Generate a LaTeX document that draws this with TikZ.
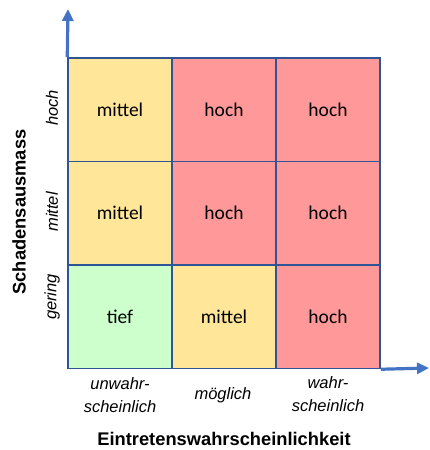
\documentclass[tikz,border=0pt]{standalone}
\usepackage{fontspec}
\setmainfont{Carlito}
\setsansfont{Liberation Sans}
\usetikzlibrary{arrows.meta}

\definecolor{gelb}{HTML}{FFE699}
\definecolor{rot}{HTML}{FF9999}
\definecolor{gruen}{HTML}{CCFFCC}
\definecolor{rand}{HTML}{2F5597}
\definecolor{achse}{HTML}{4472C4}

\begin{document}
\begin{tikzpicture}[x=1pt,y=-1pt,
  feld/.style={draw=rand, line width=1.5pt, minimum width=104pt, minimum height=103.5pt, inner sep=0pt, font=\fontsize{19.5}{20}\selectfont},
  stufe/.style={font=\sffamily\itshape\fontsize{16.5}{23}\selectfont, align=center, inner sep=0pt},
  titel/.style={font=\sffamily\bfseries\fontsize{18.3}{20}\selectfont, inner sep=0pt},
  pfeil/.style={draw=achse, line width=3.2pt, -{Triangle[length=12pt,width=11pt]}}]

\useasboundingbox (0,0) rectangle (429,450);

% die Matrix: Zeile/Spalte/Farbe/Stufe
\foreach \z/\s/\farbe/\wert in {1/1/gelb/mittel, 1/2/rot/hoch, 1/3/rot/hoch,
    2/1/gelb/mittel, 2/2/rot/hoch, 2/3/rot/hoch,
    3/1/gruen/tief, 3/2/gelb/mittel, 3/3/rot/hoch}{
    \node[feld, fill=\farbe] (f\z\s) at ({68+104*(\s-0.5)}, {58+103.5*(\z-0.5)}) {\wert};
}

% die Achsen
\coordinate (yspitze) at (68,9);
\coordinate (xspitze) at (429,368);
\draw[pfeil] (f11.north west) -- (yspitze);
\draw[pfeil] (f33.south east) -- (xspitze);

% Schadensausmass
\node[stufe, rotate=90] (hoch) at (52,108) {hoch};
\node[stufe, rotate=90] (mittel) at (52,212) {mittel};
\node[stufe, rotate=90] (gering) at (52,297) {gering};
\node[titel, rotate=90] (schaden) at (19,212) {Schadensausmass};

% Eintretenswahrscheinlichkeit
\node[stufe] (unwahr) at (120,395) {unwahr-\\scheinlich};
\node[stufe] (moeglich) at (223,395) {möglich};
\node[stufe] (wahr) at (328,394) {wahr-\\scheinlich};
\node[titel] (eintreten) at (224,439) {Eintretenswahrscheinlichkeit};

\end{tikzpicture}
\end{document}
